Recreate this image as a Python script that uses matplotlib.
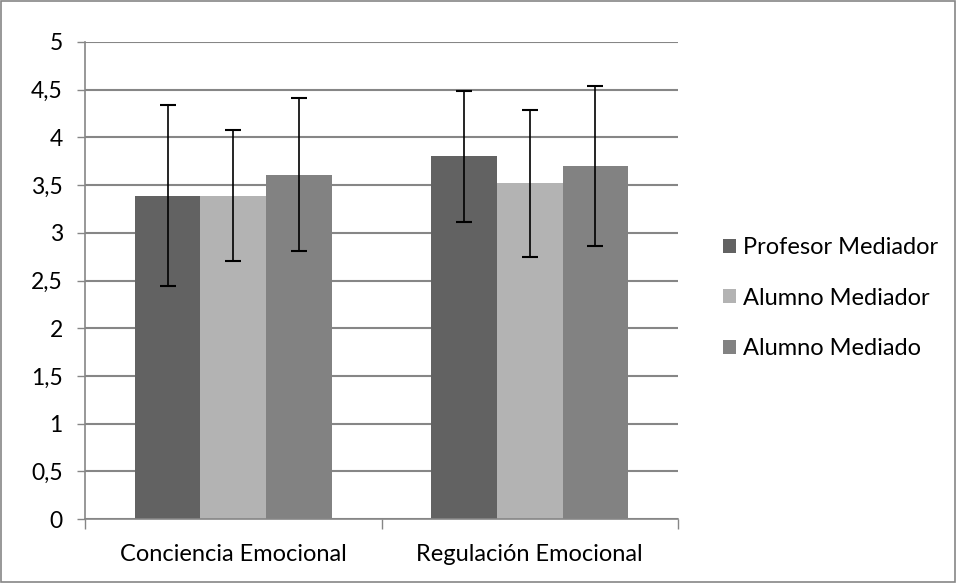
import numpy as np
import matplotlib.pyplot as plt
from matplotlib.patches import Rectangle

# Data
categories = ["Conciencia Emocional", "Regulación Emocional"]
series_names = ["Profesor Mediador", "Alumno Mediador", "Alumno Mediado"]
profesor_mediador = [3.39, 3.80]
alumno_mediador = [3.39, 3.52]
alumno_mediado = [3.61, 3.70]
profesor_sd = [0.945, 0.69]
alumno_mediador_sd = [0.69, 0.77]
alumno_mediado_sd = [0.80, 0.84]
yticks = [0, 0.5, 1, 1.5, 2, 2.5, 3, 3.5, 4, 4.5, 5]
ytick_labels = ["0", "0,5", "1", "1,5", "2", "2,5", "3", "3,5", "4", "4,5", "5"]

colors = ["#626262", "#b3b3b3", "#828282"]
grid_color = "#868686"

plt.rcParams["font.family"] = ["Lato", "DejaVu Sans"]

fig = plt.figure(figsize=(9.57, 5.83), dpi=100)
ax = fig.add_axes([85 / 957, 1 - 519 / 583, 593 / 957, 477 / 583])

# Bars with error bars
x = np.arange(len(categories))
width = 0.221
values = [profesor_mediador, alumno_mediador, alumno_mediado]
errors = [profesor_sd, alumno_mediador_sd, alumno_mediado_sd]
for i, (vals, errs) in enumerate(zip(values, errors)):
    ax.bar(x + (i - 1) * width, vals, width, color=colors[i],
           label=series_names[i], zorder=2)
    ax.errorbar(x + (i - 1) * width, vals, yerr=errs, fmt="none",
                ecolor="black", elinewidth=1.2, capsize=6, capthick=1.5,
                zorder=3)

# Axes styling
ax.set_xlim(-0.5, 1.5)
ax.set_ylim(0, 5)
ax.set_yticks(yticks)
ax.set_yticklabels(ytick_labels, fontsize=16.5)
ax.yaxis.grid(True, color=grid_color, linewidth=1.5, zorder=0)
ax.set_axisbelow(True)

ax.set_xticks(x)
ax.set_xticklabels(categories, fontsize=17)
ax.tick_params(axis="x", length=0, pad=18)
ax.set_xticks([-0.5, 0.5, 1.5], minor=True)
ax.tick_params(axis="x", which="minor", length=7, color=grid_color,
               width=1, direction="out")
ax.tick_params(axis="y", length=6, color=grid_color, width=1, pad=10)

for side in ["top", "right"]:
    ax.spines[side].set_visible(False)
for side in ["left", "bottom"]:
    ax.spines[side].set_color(grid_color)
    ax.spines[side].set_linewidth(1.2)

# Legend on the right
leg = ax.legend(loc="center left", bbox_to_anchor=(1.06, 0.463), frameon=False,
                fontsize=17, handlelength=0.55, handleheight=0.55,
                handletextpad=0.3, labelspacing=1.25, borderaxespad=0)

# Outer border of the chart
fig.patches.append(Rectangle((0.001, 0.001), 0.997, 0.997,
                             transform=fig.transFigure, fill=False,
                             edgecolor=grid_color, linewidth=1.2))

fig.savefig("out.png", dpi=100)
